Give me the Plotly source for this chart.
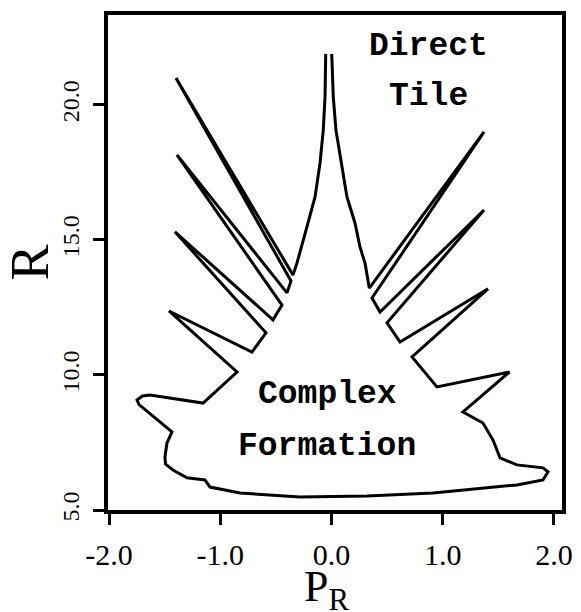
import plotly.graph_objects as go

# Boundary of the complex-formation region (P_R, R)
# from the top of the central spike (right side) around to its left side.
pr_vals = [
    0.002, 0.016, 0.040, 0.092, 0.139, 0.211, 0.256, 0.301, 0.340,   # spike right
    1.371, 0.364, 0.436,                                                # finger R1
    1.371, 0.499, 0.616,                                                # finger R2
    1.407, 0.724, 0.948,                                                # finger R3
    1.600, 1.182, 1.362, 1.452, 1.515, 1.667, 1.901,                    # right lobe
    1.946, 1.901, 1.667, 1.362, 0.912, 0.319, -0.283, -0.822,           # bottom
    -1.092, -1.137, -1.299, -1.425, -1.492, -1.497, -1.479, -1.434,
    -1.730, -1.748, -1.700, -1.631, -1.155, -0.849,                     # left lobe
    -1.461, -0.715, -0.589,                                             # finger L4
    -1.407, -0.526, -0.445,                                             # finger L3
    -1.389, -0.400, -0.364,                                             # finger L2
    -1.398, -0.346,                                                     # finger L1
    -0.310, -0.268, -0.211, -0.148, -0.103, -0.074, -0.058, -0.052,     # spike left
]
r_vals = [
    21.89, 20.30, 19.07, 17.85, 16.59, 15.63, 14.74, 14.15, 13.22,
    19.00, 12.85, 12.33,
    16.11, 11.93, 11.22,
    13.19, 10.67, 9.56,
    10.11, 8.63, 8.22, 7.59, 6.93, 6.67, 6.56,
    6.41, 6.11, 5.93, 5.81, 5.63, 5.52, 5.48, 5.63,
    5.85, 6.11, 6.19, 6.48, 6.70, 6.96, 7.48, 7.89,
    8.90, 9.07, 9.22, 9.26, 8.96, 10.11,
    12.37, 10.85, 11.56,
    15.30, 12.04, 12.59,
    18.15, 13.04, 13.48,
    21.00, 13.70,
    14.15, 14.74, 15.63, 16.59, 17.85, 19.07, 20.30, 21.89,
]

x_ticks = [-2.0, -1.0, 0.0, 1.0, 2.0]
x_tick_text = ["-2.0", "-1.0", "0.0", "1.0", "2.0"]
y_ticks = [5.0, 10.0, 15.0, 20.0]
y_tick_text = ["5.0", "10.0", "15.0", "20.0"]

label_lines = ["Direct", "Tile", "Complex", "Formation"]
label_x = [0.876, 0.876, -0.036, -0.036]
label_y = [22.18, 20.33, 9.28, 7.37]

fig = go.Figure()
fig.add_trace(go.Scatter(
    x=pr_vals, y=r_vals, mode="lines",
    line=dict(color="black", width=3), showlegend=False, hoverinfo="skip",
))

for txt, lx, ly in zip(label_lines, label_x, label_y):
    fig.add_annotation(
        x=lx, y=ly, text="<b>" + txt + "</b>", showarrow=False,
        font=dict(family="Liberation Mono, Courier New, monospace", size=33, color="black"),
        xanchor="center", yanchor="middle",
    )

serif = "Liberation Serif, Times New Roman, serif"

# x-axis title placed just below the tick labels
fig.add_annotation(
    xref="paper", yref="paper", x=0.482, y=-0.16,
    text="P<sub>R</sub>", showarrow=False,
    font=dict(family=serif, size=44, color="black"),
    xanchor="center", yanchor="middle",
)

axis_common = dict(
    showline=True, linecolor="black", linewidth=4, mirror=True,
    ticks="outside", ticklen=11, tickwidth=3, tickcolor="black",
    showgrid=False, zeroline=False, automargin=False,
)

fig.update_xaxes(
    range=[-2.009, 2.072], tickvals=x_ticks, ticktext=x_tick_text,
    tickfont=dict(family=serif, size=30, color="black"),
    ticklabelstandoff=4,
    **axis_common,
)
fig.update_yaxes(
    range=[5.0, 23.33], tickvals=y_ticks, ticktext=y_tick_text, tickangle=-90,
    tickfont=dict(family=serif, size=24, color="black"),
    ticklabelstandoff=4,
    title=dict(text="R", font=dict(family=serif, size=54, color="black")),
    **axis_common,
)

fig.update_layout(
    width=581, height=612,
    margin=dict(l=108, r=19, t=15, b=102),
    paper_bgcolor="white", plot_bgcolor="white",
)

fig.write_html("out.html")
